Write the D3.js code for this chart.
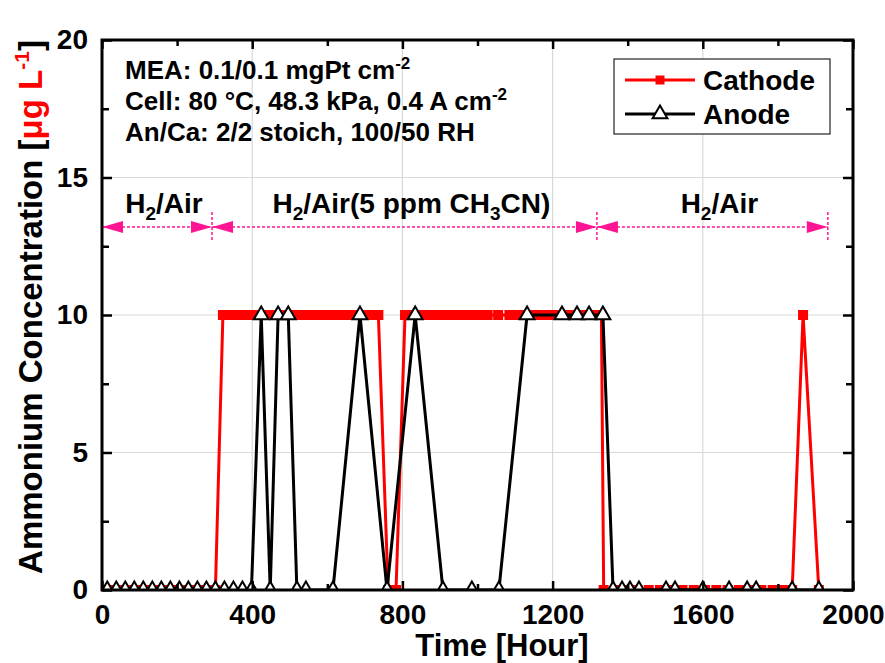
<!DOCTYPE html>
<html>
<head>
<meta charset="utf-8">
<script src="https://cdn.jsdelivr.net/npm/d3@7"></script>
<style>
  html, body { margin: 0; padding: 0; background: #fff; }
  svg text { font-family: "Liberation Sans", Arial, sans-serif; font-weight: bold; }
</style>
</head>
<body>
<svg id="chart" width="885" height="663"></svg>
<script>
// Cathode samples (hour, ammonium ug/L)
var cathodeHours = [14, 38, 62, 86, 110, 134, 158, 182, 206, 230, 254, 278, 302,
  322, 338, 354, 370, 386, 402, 418, 434, 450, 466, 482, 498, 514, 530, 546, 562, 578,
  594, 610, 626, 642, 658, 674, 690, 706, 722, 736,
  762, 783,
  807, 823, 839, 855, 871, 887, 903, 919, 935, 951, 967, 983, 999, 1015, 1027, 1055, 1085,
  1101, 1117, 1133, 1149, 1165, 1181, 1197, 1213, 1229, 1245, 1261, 1277, 1293, 1309, 1330,
  1336, 1366, 1396, 1426, 1456, 1486, 1516, 1546, 1576, 1606, 1636, 1666, 1696, 1726,
  1756, 1786, 1816, 1838,
  1867, 1909];
var cathodeValues = [0, 0, 0, 0, 0, 0, 0, 0, 0, 0, 0, 0, 0,
  10, 10, 10, 10, 10, 10, 10, 10, 10, 10, 10, 10, 10, 10, 10, 10, 10,
  10, 10, 10, 10, 10, 10, 10, 10, 10, 10,
  0, 0,
  10, 10, 10, 10, 10, 10, 10, 10, 10, 10, 10, 10, 10, 10, 10, 10, 10,
  10, 10, 10, 10, 10, 10, 10, 10, 10, 10, 10, 10, 10, 10, 10,
  0, 0, 0, 0, 0, 0, 0, 0, 0, 0, 0, 0, 0, 0,
  0, 0, 0, 0,
  10, 0];

// Anode samples
var anodeHours = [14, 38, 62, 86, 110, 134, 158, 182, 206, 230, 254, 278, 302, 326, 350,
  374, 398, 424, 448, 469, 496, 519, 543, 615, 687, 759, 834, 908, 985, 1057, 1132,
  1225, 1265, 1297, 1334, 1361, 1385, 1406, 1430, 1502, 1526, 1600, 1670, 1718, 1742,
  1838, 1909];
var anodeValues = [0, 0, 0, 0, 0, 0, 0, 0, 0, 0, 0, 0, 0, 0, 0,
  0, 0, 10, 0, 10, 10, 0, 0, 0, 10, 0, 10, 0, 0, 0, 10,
  10, 10, 10, 10, 0, 0, 0, 0, 0, 0, 0, 0, 0, 0,
  0, 0];

// Axis ticks
var xTicks = [0, 400, 800, 1200, 1600, 2000];
var xMinorTicks = [200, 600, 1000, 1400, 1800];
var yTicks = [0, 5, 10, 15, 20];
var yMinorTicks = [2.5, 7.5, 12.5, 17.5];

// Gas feed phases
var phaseBounds = [0, 293, 1318, 1933];
var phaseLabels = [['H', '2', '/Air'], ['H', '2', '/Air(5 ppm CH', '3', 'CN)'], ['H', '2', '/Air']];
var phaseArrowLevel = 13.2;

var conditionLines = [['MEA: 0.1/0.1 mgPt cm', '-2'],
                      ['Cell: 80 \u00b0C, 48.3 kPa, 0.4 A cm', '-2'],
                      ['An/Ca: 2/2 stoich, 100/50 RH', '']];

var RED = '#ff0000';
var PINK = '#ff1493';

var svg = d3.select('#chart');
var x = d3.scaleLinear().domain([0, 2000]).range([102, 853]);
var y = d3.scaleLinear().domain([0, 20]).range([590, 40]);

// grid lines at major ticks
var grid = svg.append('g').attr('class', 'grid');
grid.selectAll('.gx').data(xTicks.slice(1, -1)).enter().append('line')
    .attr('x1', function(d) { return x(d); }).attr('x2', function(d) { return x(d); })
    .attr('y1', y(0)).attr('y2', y(20))
    .attr('stroke', '#d9d9d9').attr('stroke-width', 1.2);
grid.selectAll('.gy').data(yTicks.slice(1, -1)).enter().append('line')
    .attr('y1', function(d) { return y(d); }).attr('y2', function(d) { return y(d); })
    .attr('x1', x(0)).attr('x2', x(2000))
    .attr('stroke', '#d9d9d9').attr('stroke-width', 1.2);

// phase arrows
var arrowY = y(phaseArrowLevel);
var phases = svg.append('g').attr('class', 'phases');

function arrowHead(g, tipX, dir) {
  var len = 21, half = 6;
  g.append('path')
   .attr('d', 'M' + tipX + ',' + arrowY + 'L' + (tipX - dir * len) + ',' + (arrowY - half) +
              'L' + (tipX - dir * len) + ',' + (arrowY + half) + 'Z')
   .attr('fill', PINK);
}

for (var i = 0; i < phaseBounds.length - 1; i++) {
  var x0 = x(phaseBounds[i]), x1 = x(phaseBounds[i + 1]);
  phases.append('line')
      .attr('x1', x0).attr('x2', x1).attr('y1', arrowY).attr('y2', arrowY)
      .attr('stroke', PINK).attr('stroke-width', 1.5).attr('stroke-dasharray', '3,2');
  arrowHead(phases, x0, -1);
  arrowHead(phases, x1, 1);

  var lbl = phases.append('text')
      .attr('x', (x0 + x1) / 2 + 7).attr('y', arrowY - 14)
      .attr('text-anchor', 'middle').attr('font-size', 28);
  phaseLabels[i].forEach(function(part, k) {
    var sub = k % 2 === 1;
    lbl.append('tspan').text(part)
       .attr('font-size', sub ? 19 : 28)
       .attr('dy', k === 0 ? 0 : (sub ? 7 : -7));
  });
}
phaseBounds.slice(1).forEach(function(b) {
  phases.append('line')
      .attr('x1', x(b)).attr('x2', x(b)).attr('y1', arrowY - 15).attr('y2', arrowY + 15)
      .attr('stroke', PINK).attr('stroke-width', 1.5).attr('stroke-dasharray', '3,2');
});

// data series, clipped to the plot area
svg.append('clipPath').attr('id', 'plot-clip').append('rect')
   .attr('x', x(0)).attr('y', y(20) - 10).attr('width', x(2000) - x(0)).attr('height', y(0) - y(20) + 10);

var plot = svg.append('g').attr('clip-path', 'url(#plot-clip)');

var cathode = cathodeHours.map(function(h, j) { return {h: h, v: cathodeValues[j]}; });
var anode = anodeHours.map(function(h, j) { return {h: h, v: anodeValues[j]}; });

var line = d3.line().x(function(d) { return x(d.h); }).y(function(d) { return y(d.v); });

plot.append('path').datum(cathode).attr('d', line)
    .attr('fill', 'none').attr('stroke', RED).attr('stroke-width', 3).attr('stroke-linejoin', 'round');
plot.selectAll('.csq').data(cathode).enter().append('rect')
    .attr('x', function(d) { return x(d.h) - 5; })
    .attr('y', function(d) { return y(d.v) - 5; })
    .attr('width', 10).attr('height', 10).attr('fill', RED);

plot.append('path').datum(anode).attr('d', line)
    .attr('fill', 'none').attr('stroke', '#000').attr('stroke-width', 3).attr('stroke-linejoin', 'round');
var tri = d3.symbol().type(d3.symbolTriangle).size(95);
plot.selectAll('.atri').data(anode).enter().append('path')
    .attr('d', tri)
    .attr('transform', function(d) { return 'translate(' + x(d.h) + ',' + y(d.v) + ')'; })
    .attr('fill', '#fff').attr('stroke', '#000').attr('stroke-width', 2);

// axes: all ticks point inward
function styleAxis(g) {
  g.select('.domain').remove();
  g.selectAll('.tick line').attr('stroke', '#000').attr('stroke-width', 2.5);
  g.selectAll('.tick text').attr('font-size', 28).attr('fill', '#000');
}

svg.append('g').attr('transform', 'translate(0,' + y(0) + ')')
   .call(d3.axisBottom(x).tickValues(xTicks).tickSize(-9).tickPadding(14).tickFormat(d3.format('d')))
   .call(styleAxis);
svg.append('g').attr('transform', 'translate(0,' + y(0) + ')')
   .call(d3.axisBottom(x).tickValues(xMinorTicks).tickSize(-6).tickFormat(''))
   .call(styleAxis);
svg.append('g').attr('transform', 'translate(0,' + y(20) + ')')
   .call(d3.axisTop(x).tickValues(xTicks).tickSize(-9).tickFormat(''))
   .call(styleAxis);
svg.append('g').attr('transform', 'translate(0,' + y(20) + ')')
   .call(d3.axisTop(x).tickValues(xMinorTicks).tickSize(-6).tickFormat(''))
   .call(styleAxis);
svg.append('g').attr('transform', 'translate(' + x(0) + ',0)')
   .call(d3.axisLeft(y).tickValues(yTicks).tickSize(-10).tickPadding(14).tickFormat(d3.format('d')))
   .call(styleAxis);
svg.append('g').attr('transform', 'translate(' + x(0) + ',0)')
   .call(d3.axisLeft(y).tickValues(yMinorTicks).tickSize(-7).tickFormat(''))
   .call(styleAxis);
svg.append('g').attr('transform', 'translate(' + x(2000) + ',0)')
   .call(d3.axisRight(y).tickValues(yTicks).tickSize(-10).tickFormat(''))
   .call(styleAxis);
svg.append('g').attr('transform', 'translate(' + x(2000) + ',0)')
   .call(d3.axisRight(y).tickValues(yMinorTicks).tickSize(-7).tickFormat(''))
   .call(styleAxis);

// frame
svg.append('rect')
   .attr('x', x(0)).attr('y', y(20)).attr('width', x(2000) - x(0)).attr('height', y(0) - y(20))
   .attr('fill', 'none').attr('stroke', '#000').attr('stroke-width', 3);

// axis titles
svg.append('text').attr('x', 502).attr('y', 656)
   .attr('text-anchor', 'middle').attr('font-size', 31).text('Time [Hour]');

var yTitle = svg.append('text')
   .attr('transform', 'translate(42,307) rotate(-90)')
   .attr('text-anchor', 'middle').attr('font-size', 33);
yTitle.append('tspan').text('Ammonium Concentration [');
yTitle.append('tspan').attr('fill', RED).text('\u03bcg L');
yTitle.append('tspan').attr('fill', RED).attr('font-size', 21).attr('dy', -13).text('-1');
yTitle.append('tspan').attr('dy', 13).text(']');

// test conditions
var cond = svg.append('g');
conditionLines.forEach(function(l, k) {
  var t = cond.append('text').attr('x', 125).attr('y', 79 + k * 31).attr('font-size', 26);
  t.append('tspan').text(l[0]);
  t.append('tspan').attr('font-size', 17).attr('dy', -10).text(l[1]);
});

// legend
var legend = svg.append('g');
legend.append('rect').attr('x', 614).attr('y', 59).attr('width', 216).attr('height', 75)
      .attr('fill', '#fff').attr('stroke', '#222').attr('stroke-width', 1.2);
var legendRows = [{name: 'Cathode', color: RED, mark: 'square'}, {name: 'Anode', color: '#000', mark: 'triangle'}];
legendRows.forEach(function(r, k) {
  var ly = 80 + k * 34;
  legend.append('line').attr('x1', 625).attr('x2', 695).attr('y1', ly).attr('y2', ly)
        .attr('stroke', r.color).attr('stroke-width', 3);
  if (r.mark === 'square') {
    legend.append('rect').attr('x', 655.5).attr('y', ly - 4.5).attr('width', 9).attr('height', 9).attr('fill', r.color);
  } else {
    legend.append('path').attr('d', tri).attr('transform', 'translate(660,' + ly + ')')
          .attr('fill', '#fff').attr('stroke', '#000').attr('stroke-width', 2);
  }
  legend.append('text').attr('x', 703).attr('y', ly + 10).attr('font-size', 28).text(r.name);
});
</script>
</body>
</html>
